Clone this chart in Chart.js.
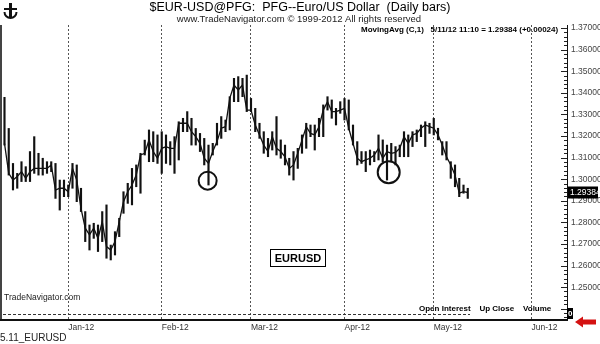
<!DOCTYPE html>
<html>
<head>
<meta charset="utf-8">
<script src="https://cdn.jsdelivr.net/npm/chart.js@4/dist/chart.umd.min.js"></script>
<style>
  html, body { margin: 0; padding: 0; background: #fff; }
  canvas { display: block; }
</style>
</head>
<body>
<canvas id="eurChart" width="600" height="344"></canvas>
<script>
// daily bars, 12 Dec 2011 .. 11 May 2012 (index = trading day)
const highs = [
  1.3379, 1.3235, 1.3073, 1.3027, 1.3081, 1.3058, 1.3128, 1.3197, 1.3120, 1.3097,
  1.3081, 1.3081, 1.3073, 1.2996, 1.2996, 1.2973, 1.3073, 1.3066, 1.2958, 1.2850,
  1.2788, 1.2796, 1.2788, 1.2850, 1.2881, 1.2695, 1.2757, 1.2819, 1.2942, 1.2981,
  1.3050, 1.3066, 1.3120, 1.3181, 1.3228, 1.3220, 1.3205, 1.3220, 1.3205, 1.3174,
  1.3197, 1.3266, 1.3282, 1.3313, 1.3282, 1.3235, 1.3212, 1.3189, 1.3158, 1.3166,
  1.3259, 1.3290, 1.3274, 1.3382, 1.3467, 1.3475, 1.3467, 1.3482, 1.3374, 1.3328,
  1.3259, 1.3220, 1.3189, 1.3220, 1.3290, 1.3182, 1.3158, 1.3097, 1.3128, 1.3143,
  1.3205, 1.3259, 1.3251, 1.3251, 1.3282, 1.3344, 1.3382, 1.3367, 1.3328, 1.3359,
  1.3374, 1.3367, 1.3251, 1.3174, 1.3128, 1.3128, 1.3135, 1.3128, 1.3205, 1.3182,
  1.3158, 1.3166, 1.3151, 1.3158, 1.3220, 1.3205, 1.3220, 1.3228, 1.3251, 1.3266,
  1.3259, 1.3282, 1.3236, 1.3174, 1.3174, 1.3081, 1.3066, 1.3004, 1.2973, 1.2958
];
const lows = [
  1.3158, 1.3019, 1.2950, 1.2958, 1.2989, 1.2989, 1.2989, 1.3027, 1.3019, 1.3019,
  1.3027, 1.3035, 1.2911, 1.2857, 1.2919, 1.2919, 1.2958, 1.2896, 1.2850, 1.2711,
  1.2672, 1.2726, 1.2665, 1.2711, 1.2634, 1.2626, 1.2649, 1.2734, 1.2842, 1.2888,
  1.2881, 1.2965, 1.2935, 1.3112, 1.3081, 1.3081, 1.3073, 1.3027, 1.3073, 1.3066,
  1.3027, 1.3089, 1.3220, 1.3220, 1.3158, 1.3158, 1.3128, 1.3066, 1.2973, 1.3112,
  1.3158, 1.3189, 1.3220, 1.3228, 1.3359, 1.3359, 1.3382, 1.3313, 1.3313, 1.3220,
  1.3189, 1.3120, 1.3104, 1.3135, 1.3112, 1.3097, 1.3066, 1.3019, 1.2996, 1.3050,
  1.3120, 1.3143, 1.3197, 1.3135, 1.3197, 1.3197, 1.3320, 1.3282, 1.3251, 1.3305,
  1.3274, 1.3228, 1.3158, 1.3066, 1.3073, 1.3035, 1.3066, 1.3081, 1.3089, 1.3081,
  1.2996, 1.3081, 1.3066, 1.3104, 1.3104, 1.3104, 1.3151, 1.3174, 1.3197, 1.3151,
  1.3212, 1.3205, 1.3182, 1.3112, 1.3089, 1.3004, 1.2965, 1.2919, 1.2935, 1.2911
];
const closes = [
  1.3166, 1.3027, 1.2996, 1.3012, 1.3035, 1.3004, 1.3035, 1.3050, 1.3050, 1.3050,
  1.3050, 1.3066, 1.2950, 1.2958, 1.2958, 1.2942, 1.3050, 1.2996, 1.2865, 1.2773,
  1.2742, 1.2773, 1.2726, 1.2803, 1.2688, 1.2672, 1.2711, 1.2803, 1.2896, 1.2942,
  1.2973, 1.3019, 1.3112, 1.3120, 1.3181, 1.3128, 1.3097, 1.3143, 1.3151, 1.3143,
  1.3143, 1.3259, 1.3259, 1.3259, 1.3220, 1.3197, 1.3166, 1.3097, 1.3073, 1.3128,
  1.3174, 1.3236, 1.3243, 1.3374, 1.3436, 1.3413, 1.3436, 1.3320, 1.3320, 1.3251,
  1.3205, 1.3158, 1.3128, 1.3197, 1.3143, 1.3128, 1.3104, 1.3050, 1.3066, 1.3120,
  1.3181, 1.3243, 1.3212, 1.3205, 1.3243, 1.3320, 1.3359, 1.3313, 1.3313, 1.3320,
  1.3328, 1.3236, 1.3166, 1.3097, 1.3081, 1.3089, 1.3097, 1.3112, 1.3143, 1.3097,
  1.3128, 1.3120, 1.3124, 1.3143, 1.3197, 1.3166, 1.3205, 1.3212, 1.3236, 1.3251,
  1.3243, 1.3236, 1.3205, 1.3158, 1.3104, 1.3066, 1.3019, 1.2935, 1.2942, 1.29384
];

// month starts (trading-day index) and their labels
const monthIdx = [15, 37, 58, 80, 101, 124];
const monthLabels = ['Jan-12', 'Feb-12', 'Mar-12', 'Apr-12', 'May-12', 'Jun-12'];
const priceTicks = [1.25, 1.26, 1.27, 1.28, 1.29, 1.30, 1.31, 1.32, 1.33, 1.34, 1.35, 1.36, 1.37];

// the two hand-drawn circles (day index, price)
const markX = [47.8, 90.4];
const markY = [1.2993, 1.3032];
const markR = [9, 11];

const lastClose = 1.29384;

const FONT = '"Liberation Sans", Arial, sans-serif';

const overlay = {
    id: 'overlay',
    afterDraw(chart) {
        const ctx = chart.ctx;
        const y = chart.scales.y;
        const a = chart.chartArea;
        ctx.save();

        // frame: left bar and thick bottom line
        ctx.fillStyle = '#444';
        ctx.fillRect(0, a.top, 2, a.bottom - a.top);
        ctx.fillStyle = '#111';
        ctx.fillRect(0, a.bottom - 1, a.right + 1, 2);

        // price axis minor / major ticks
        ctx.strokeStyle = '#222';
        ctx.lineWidth = 1;
        for (let k = 1236; k <= 1370; k += 2) {
            const py = Math.round(y.getPixelForValue(k / 1000)) + 0.5;
            const len = (k % 10 === 0) ? 6 : 3;
            ctx.beginPath();
            ctx.moveTo(a.right - len, py);
            ctx.lineTo(a.right, py);
            ctx.stroke();
        }

        // volume panel divider
        ctx.setLineDash([3, 2]);
        ctx.strokeStyle = '#333';
        ctx.beginPath();
        ctx.moveTo(3, 314.5);
        ctx.lineTo(470, 314.5);
        ctx.stroke();
        ctx.setLineDash([]);

        // header
        ctx.fillStyle = '#000';
        ctx.textBaseline = 'middle';
        ctx.textAlign = 'center';
        ctx.font = '12.5px ' + FONT;
        ctx.fillText('$EUR-USD@PFG:  PFG--Euro/US Dollar  (Daily bars)', 300, 8);
        ctx.fillStyle = '#222';
        ctx.font = '9.5px ' + FONT;
        ctx.fillText('www.TradeNavigator.com \u00A9 1999-2012 All rights reserved', 299, 19.5);

        ctx.fillStyle = '#000';
        ctx.textAlign = 'left';
        ctx.font = 'bold 8px ' + FONT;
        ctx.fillText('MovingAvg (C,1)   5/11/12 11:10 = 1.29384 (+0.00024)', 361, 30);

        // logo
        ctx.fillStyle = '#111';
        ctx.fillRect(9, 3, 3, 14);
        ctx.fillRect(4, 8, 13, 2);
        ctx.beginPath();
        ctx.arc(10.5, 12, 6, 0, Math.PI);
        ctx.lineWidth = 2;
        ctx.strokeStyle = '#111';
        ctx.stroke();

        // last price box
        const py = y.getPixelForValue(lastClose);
        ctx.fillStyle = '#000';
        ctx.fillRect(a.right + 1, py - 6, 30, 12);
        ctx.fillStyle = '#fff';
        ctx.font = '8.5px ' + FONT;
        ctx.fillText(lastClose.toFixed(5), a.right + 3, py);

        // symbol box
        ctx.strokeStyle = '#000';
        ctx.lineWidth = 1;
        ctx.strokeRect(270.5, 249.5, 55, 17);
        ctx.fillStyle = '#000';
        ctx.font = 'bold 11px ' + FONT;
        ctx.textAlign = 'center';
        ctx.fillText('EURUSD', 298, 258.5);

        // small captions
        ctx.textAlign = 'left';
        ctx.fillStyle = '#222';
        ctx.font = '8.5px ' + FONT;
        ctx.fillText('TradeNavigator.com', 4, 298);
        ctx.fillStyle = '#000';
        ctx.font = 'bold 8px ' + FONT;
        ctx.fillText('Open Interest    Up Close    Volume', 419, 309);

        // volume zero box
        ctx.fillStyle = '#000';
        ctx.fillRect(a.right, 308, 6, 11);
        ctx.fillStyle = '#fff';
        ctx.font = 'bold 8px ' + FONT;
        ctx.fillText('0', a.right + 1, 314);

        ctx.fillStyle = '#222';
        ctx.font = '10px ' + FONT;
        ctx.fillText('5.11_EURUSD', 0, 338.5);

        // red arrow
        ctx.fillStyle = '#d41212';
        ctx.beginPath();
        ctx.moveTo(575, 322);
        ctx.lineTo(583, 316.5);
        ctx.lineTo(583, 319.5);
        ctx.lineTo(596, 319.5);
        ctx.lineTo(596, 324.5);
        ctx.lineTo(583, 324.5);
        ctx.lineTo(583, 327.5);
        ctx.closePath();
        ctx.fill();

        ctx.restore();
    }
};

new Chart(document.getElementById('eurChart'), {
    type: 'bar',
    data: {
        datasets: [
            {
                type: 'scatter',
                label: 'marks',
                data: markX.map((x, i) => ({ x: x, y: markY[i] })),
                pointRadius: markR,
                pointBackgroundColor: 'rgba(0,0,0,0)',
                pointBorderColor: '#111',
                pointBorderWidth: 2
            },
            {
                type: 'line',
                label: 'MovingAvg (C,1)',
                data: closes.map((c, i) => ({ x: i, y: c })),
                borderColor: '#111',
                borderWidth: 1.3,
                pointRadius: 0,
                tension: 0
            },
            {
                type: 'bar',
                label: 'Daily bars',
                data: highs.map((h, i) => ({ x: i, y: [lows[i], h] })),
                backgroundColor: '#111',
                barThickness: 1.5,
                grouped: false
            }
        ]
    },
    options: {
        responsive: false,
        animation: false,
        layout: { autoPadding: false, padding: { left: 3, right: 0, top: 25, bottom: 10 } },
        plugins: {
            legend: { display: false },
            tooltip: { enabled: false }
        },
        scales: {
            x: {
                type: 'linear',
                offset: false,
                min: -0.35,
                max: 132.35,
                afterBuildTicks: s => { s.ticks = monthIdx.map(v => ({ value: v })); },
                afterFit: s => { s.height = 14; },
                grid: { color: '#555', lineWidth: 1, drawTicks: false, offset: false },
                border: { display: false, dash: [2, 2] },
                ticks: {
                    align: 'start',
                    maxRotation: 0,
                    autoSkip: false,
                    padding: 3,
                    color: '#333',
                    font: { family: FONT, size: 8.5 },
                    callback: v => monthLabels[monthIdx.indexOf(v)]
                }
            },
            y: {
                position: 'right',
                min: 1.2348,
                max: 1.3714,
                afterBuildTicks: s => { s.ticks = priceTicks.map(v => ({ value: v })); },
                afterFit: s => { s.width = 33; },
                grid: { display: false, drawTicks: false },
                border: { display: true, color: '#111', width: 1 },
                ticks: {
                    padding: 4,
                    color: '#444',
                    font: { family: FONT, size: 8.5 },
                    callback: v => v.toFixed(5)
                }
            }
        }
    },
    plugins: [overlay]
});
</script>
</body>
</html>
